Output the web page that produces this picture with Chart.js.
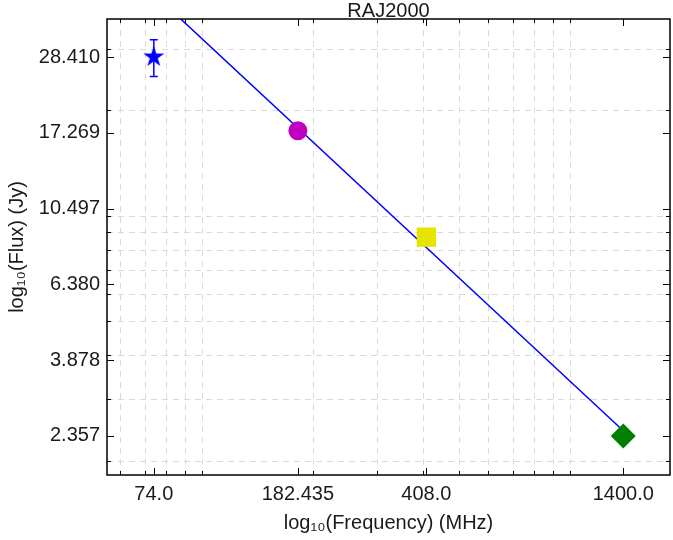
<!DOCTYPE html>
<html>
<head>
<meta charset="utf-8">
<script src="https://cdn.jsdelivr.net/npm/chart.js@4/dist/chart.umd.min.js"></script>
<style>
  html, body { margin: 0; padding: 0; background: #ffffff; }
  #wrap { width: 673px; height: 540px; position: relative; }
</style>
</head>
<body>
<div id="wrap"><canvas id="c" width="673" height="540"></canvas></div>
<script>
// ---- data ----
const frequencies = [74, 182.435, 408, 1400];          // MHz
const fluxes = [28.41, 17.5, 8.7, 2.357];               // Jy
const fluxErrors = [3.4, 0, 0, 0];                      // Jy
const markerStyles = ['star', 'circle', 'rect', 'rectRot'];
const markerColors = ['#0000ff', '#bf00bf', '#e5e500', '#008000'];

const fitFrequencies = [74, 1400];
const fitFluxes = [43.0, 2.44];

const xTickValues = [74, 182.435, 408, 1400];
const xTickLabels = ['74.0', '182.435', '408.0', '1400.0'];
const yTickValues = [2.357, 3.878, 6.380, 10.497, 17.269, 28.410];
const yTickLabels = ['2.357', '3.878', '6.380', '10.497', '17.269', '28.410'];

const xMinorValues = [60, 70, 80, 90, 100, 200, 300, 400, 500, 600, 700, 800, 900, 1000];
const yMinorValues = [2, 3, 4, 5, 6, 7, 8, 9, 10, 20, 30];

const xLimits = [55.2, 1876];
const yLimits = [1.824, 36.47];

const titleText = 'RAJ2000';
const xTitle = 'log\u2081\u2080(Frequency) (MHz)';
const yTitle = 'log\u2081\u2080(Flux) (Jy)';

// ---- filled star marker ----
function makeStar(color, R) {
  const s = Math.ceil(R * 2 + 4);
  const cv = document.createElement('canvas');
  cv.width = s; cv.height = s;
  const g = cv.getContext('2d');
  const cx = s / 2, cy = s / 2, r = R * 0.382;
  g.beginPath();
  for (let i = 0; i < 10; i++) {
    const rad = (i % 2 === 0) ? R : r;
    const a = -Math.PI / 2 + i * Math.PI / 5;
    const px = cx + rad * Math.cos(a), py = cy + rad * Math.sin(a);
    if (i === 0) g.moveTo(px, py); else g.lineTo(px, py);
  }
  g.closePath();
  g.fillStyle = color;
  g.fill();
  return cv;
}
const starImg = makeStar('#0000ff', 11);
const pointStyles = markerStyles.map(s => s === 'star' ? starImg : s);
const pointRadii = [11, 9.5, 13.7, 12.5];

const FONT = "'Liberation Sans', Arial, Helvetica, sans-serif";
const TEXT = '#1a1a1a';
const FS = 20;

const framePlugin = {
  id: 'frame',
  beforeDatasetsDraw(chart) {
    const {ctx, chartArea: a, scales: {x, y}} = chart;
    ctx.save();
    ctx.beginPath();
    ctx.rect(a.left, a.top, a.right - a.left, a.bottom - a.top);
    ctx.clip();
    ctx.strokeStyle = '#dadada';
    ctx.lineWidth = 1;
    ctx.setLineDash([6, 5]);
    xMinorValues.forEach(v => {
      const px = Math.round(x.getPixelForValue(v)) + 0.5;
      ctx.beginPath(); ctx.moveTo(px, a.top); ctx.lineTo(px, a.bottom); ctx.stroke();
    });
    yMinorValues.forEach(v => {
      const py = Math.round(y.getPixelForValue(v)) + 0.5;
      ctx.beginPath(); ctx.moveTo(a.left, py); ctx.lineTo(a.right, py); ctx.stroke();
    });
    ctx.setLineDash([]);
    // error bars
    ctx.strokeStyle = '#0000ff';
    ctx.lineWidth = 1.5;
    frequencies.forEach((f, i) => {
      const e = fluxErrors[i];
      if (!e) return;
      const px = x.getPixelForValue(f);
      const y1 = y.getPixelForValue(fluxes[i] + e);
      const y2 = y.getPixelForValue(fluxes[i] - e);
      ctx.beginPath();
      ctx.moveTo(px, y1); ctx.lineTo(px, y2);
      ctx.moveTo(px - 4, y1); ctx.lineTo(px + 4, y1);
      ctx.moveTo(px - 4, y2); ctx.lineTo(px + 4, y2);
      ctx.stroke();
    });
    ctx.restore();
  },
  afterDatasetsDraw(chart) {
    const {ctx, chartArea: a, scales: {x, y}} = chart;
    ctx.save();
    ctx.strokeStyle = '#000000';
    ctx.lineWidth = 1;
    const tick = (vals, len, horiz) => {
      vals.forEach(v => {
        if (horiz) {
          const px = Math.round(x.getPixelForValue(v)) + 0.5;
          ctx.beginPath();
          ctx.moveTo(px, a.bottom); ctx.lineTo(px, a.bottom - len);
          ctx.moveTo(px, a.top); ctx.lineTo(px, a.top + len);
          ctx.stroke();
        } else {
          const py = Math.round(y.getPixelForValue(v)) + 0.5;
          ctx.beginPath();
          ctx.moveTo(a.left, py); ctx.lineTo(a.left + len, py);
          ctx.moveTo(a.right, py); ctx.lineTo(a.right - len, py);
          ctx.stroke();
        }
      });
    };
    tick(xMinorValues, 4, true);
    tick(xTickValues, 7, true);
    tick(yMinorValues, 4, false);
    tick(yTickValues, 7, false);
    ctx.lineWidth = 1.5;
    ctx.strokeRect(a.left, a.top, a.right - a.left, a.bottom - a.top);
    // title
    ctx.fillStyle = TEXT;
    ctx.font = FS + 'px ' + FONT;
    ctx.textAlign = 'center';
    ctx.textBaseline = 'alphabetic';
    ctx.fillText(titleText, (a.left + a.right) / 2, a.top - 2);
    ctx.restore();
  }
};

new Chart(document.getElementById('c'), {
  data: {
    datasets: [
      {
        type: 'scatter',
        data: frequencies.map((f, i) => ({x: f, y: fluxes[i]})),
        pointStyle: pointStyles,
        pointRadius: pointRadii,
        pointBackgroundColor: markerColors,
        pointBorderColor: markerColors,
        pointBorderWidth: 0,
      },
      {
        type: 'line',
        data: fitFrequencies.map((f, i) => ({x: f, y: fitFluxes[i]})),
        borderColor: '#0000ff',
        borderWidth: 1.5,
        pointRadius: 0,
        fill: false,
        tension: 0,
      }
    ]
  },
  options: {
    responsive: false,
    animation: false,
    events: [],
    layout: { autoPadding: false, padding: { left: 0, right: 3, top: 19, bottom: 0 } },
    plugins: { legend: { display: false }, tooltip: { enabled: false }, title: { display: false } },
    scales: {
      x: {
        type: 'logarithmic',
        min: xLimits[0], max: xLimits[1],
        grid: { display: false, drawTicks: false },
        border: { display: false },
        afterBuildTicks: s => { s.ticks = xTickValues.map(v => ({value: v})); },
        afterFit: s => { s.height = 65; s.paddingLeft = 0; s.paddingRight = 0; },
        ticks: {
          autoSkip: false, maxRotation: 0, padding: 7, color: TEXT,
          font: { family: FONT, size: FS },
          callback: (v, i) => xTickLabels[i]
        },
        title: { display: true, text: xTitle, color: TEXT, font: { family: FONT, size: FS }, padding: { top: 0, bottom: 5 } }
      },
      y: {
        type: 'logarithmic',
        min: yLimits[0], max: yLimits[1],
        grid: { display: false, drawTicks: false },
        border: { display: false },
        afterBuildTicks: s => { s.ticks = yTickValues.map(v => ({value: v})); },
        afterFit: s => { s.width = 107; s.paddingTop = 0; s.paddingBottom = 0; },
        ticks: {
          autoSkip: false, padding: 7, color: TEXT,
          font: { family: FONT, size: FS },
          callback: (v, i) => yTickLabels[i]
        },
        title: { display: true, text: yTitle, color: TEXT, font: { family: FONT, size: FS }, padding: { top: 5, bottom: 0 } }
      }
    }
  },
  plugins: [framePlugin]
});
</script>
</body>
</html>
